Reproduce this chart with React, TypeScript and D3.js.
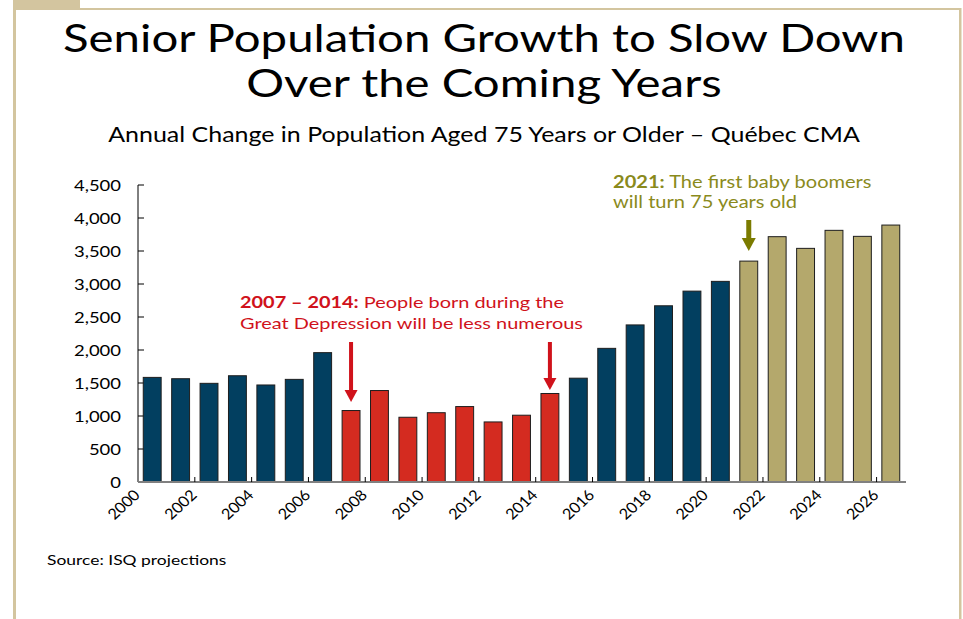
import React from "react";
import * as d3 from "d3";

const years = d3.range(2000, 2027).map(String);
const values = [1585, 1565, 1495, 1610, 1470, 1555, 1960, 1083, 1386, 981, 1050, 1143, 910, 1012, 1341, 1573, 2025, 2380, 2670, 2892, 3040, 3347, 3717, 3540, 3813, 3722, 3893];
const groups = [
  "hist", "hist", "hist", "hist", "hist", "hist", "hist",
  "dep", "dep", "dep", "dep", "dep", "dep", "dep", "dep",
  "hist", "hist", "hist", "hist", "hist", "hist",
  "boom", "boom", "boom", "boom", "boom", "boom",
];
const yTicks = [0, 500, 1000, 1500, 2000, 2500, 3000, 3500, 4000, 4500];
const xTickLabels = ["2000", "2002", "2004", "2006", "2008", "2010", "2012", "2014", "2016", "2018", "2020", "2022", "2024", "2026"];

const COLORS: Record<string, string> = { hist: "#023f60", dep: "#d42b20", boom: "#b4a86c" };
const TAN = "#d3c59f";
const RED_TEXT = "#d0121b";
const OLIVE_TEXT = "#8a8a1c";
const OLIVE_ARROW = "#7b7b00";
const FONT = "Lato, 'Open Sans', sans-serif";
const SX = 1.23;

const W = 963, H = 619;
const X0 = 138, X1 = 905, Y0 = 482, Y1 = 185;

function SText(props: { x: number; y: number; size: number; anchor?: string; fill?: string; weight?: string | number; children: React.ReactNode; rotate?: number; sx?: number }) {
  const { x, y, size, anchor = "start", fill = "#000", weight = "normal", children, rotate, sx = SX } = props;
  const tr = `translate(${x},${y}) scale(${sx},1)` + (rotate ? ` rotate(${rotate})` : "");
  return (
    <text transform={tr} fontSize={size} fontFamily={FONT} textAnchor={anchor} fill={fill} fontWeight={weight}>
      {children}
    </text>
  );
}

function Arrow({ x, y0, y1, color, shaft = 5, head = 14, headLen = 12 }: { x: number; y0: number; y1: number; color: string; shaft?: number; head?: number; headLen?: number }) {
  return (
    <g fill={color}>
      <rect x={x - shaft / 2} y={y0} width={shaft} height={y1 - y0 - headLen + 1} />
      <path d={`M${x - head / 2},${y1 - headLen} L${x + head / 2},${y1 - headLen} L${x},${y1} Z`} />
    </g>
  );
}

export default function App() {
  const slots = d3.range(years.length + 1);
  const x = d3.scaleLinear().domain([0, years.length]).range([X0, X1]);
  const step = x(1) - x(0);
  const barW = step * 0.63;
  const y = d3.scaleLinear().domain([0, 4500]).range([Y0, Y1]);
  const fmt = d3.format(",");

  const idx = (yr: string) => years.indexOf(yr);
  const cx = (yr: string) => x(idx(yr) + 0.5);

  return (
    <svg width={W} height={H} style={{ position: "fixed", left: 0, top: 0, background: "#fff" }}>
      <rect width={W} height={H} fill="#fff" />
      {/* frame */}
      <rect x={13} y={0} width={3} height={H} fill={TAN} />
      <rect x={13} y={0} width={67} height={8} fill={TAN} />
      <rect x={13} y={8} width={948} height={2} fill={TAN} />
      <rect x={959} y={8} width={2.5} height={H - 8} fill={TAN} />

      {/* titles */}
      <SText x={484} y={52} size={38.5} anchor="middle">Senior Population Growth to Slow Down</SText>
      <SText x={484} y={97} size={38.5} anchor="middle">Over the Coming Years</SText>
      <SText x={484} y={142} size={20.3} anchor="middle">Annual Change in Population Aged 75 Years or Older – Québec CMA</SText>

      {/* y axis */}
      <line x1={X0} x2={X0} y1={Y1} y2={Y0} stroke="#000" strokeWidth={1} />
      {yTicks.map((t) => (
        <g key={t}>
          <line x1={X0} x2={X0 + 6} y1={y(t)} y2={y(t)} stroke="#000" strokeWidth={1} />
          <SText x={121} y={y(t) + 5.5} size={15} anchor="end">{fmt(t)}</SText>
        </g>
      ))}

      {/* bars */}
      {values.map((v, i) => (
        <rect
          key={i}
          x={x(i + 0.5) - barW / 2}
          y={y(v)}
          width={barW}
          height={Y0 - y(v)}
          fill={COLORS[groups[i]]}
          stroke="#1e1e1e"
          strokeWidth={1}
        />
      ))}

      {/* x axis */}
      <line x1={X0} x2={X1 + 1} y1={Y0} y2={Y0} stroke="#808080" strokeWidth={2} />
      {slots.filter((s) => s % 2 === 0 && s > 0 && s < years.length).map((s) => (
        <line key={s} x1={x(s)} x2={x(s)} y1={Y0} y2={Y0 - 5} stroke="#000" strokeWidth={1} />
      ))}
      {xTickLabels.map((lab) => (
        <SText key={lab} x={x(idx(lab)) + 3} y={Y0 + 14} size={15} anchor="end" rotate={-45} sx={1.08}>{lab}</SText>
      ))}

      {/* annotations */}
      <text transform={`translate(240,308) scale(${SX},1)`} fontSize={16.2} fontFamily={FONT} fill={RED_TEXT}>
        <tspan fontWeight="bold">2007 – 2014:</tspan>
        <tspan> People born during the</tspan>
      </text>
      <SText x={240} y={329} size={16.2} fill={RED_TEXT}>Great Depression will be less numerous</SText>
      <Arrow x={cx("2007")} y0={342} y1={402} color="#d0121b" shaft={4} head={13} headLen={12} />
      <Arrow x={cx("2014")} y0={342} y1={390} color="#d0121b" shaft={4} head={13} headLen={12} />

      <text transform={`translate(613,188) scale(${SX},1)`} fontSize={16.3} fontFamily={FONT} fill={OLIVE_TEXT}>
        <tspan fontWeight="bold">2021:</tspan>
        <tspan> The first baby boomers</tspan>
      </text>
      <SText x={613} y={208} size={16.3} fill={OLIVE_TEXT}>will turn 75 years old</SText>
      <Arrow x={cx("2021")} y0={220} y1={251} color={OLIVE_ARROW} shaft={5} head={14} headLen={13} />

      <SText x={47} y={565} size={14.2}>Source: ISQ projections</SText>
    </svg>
  );
}
